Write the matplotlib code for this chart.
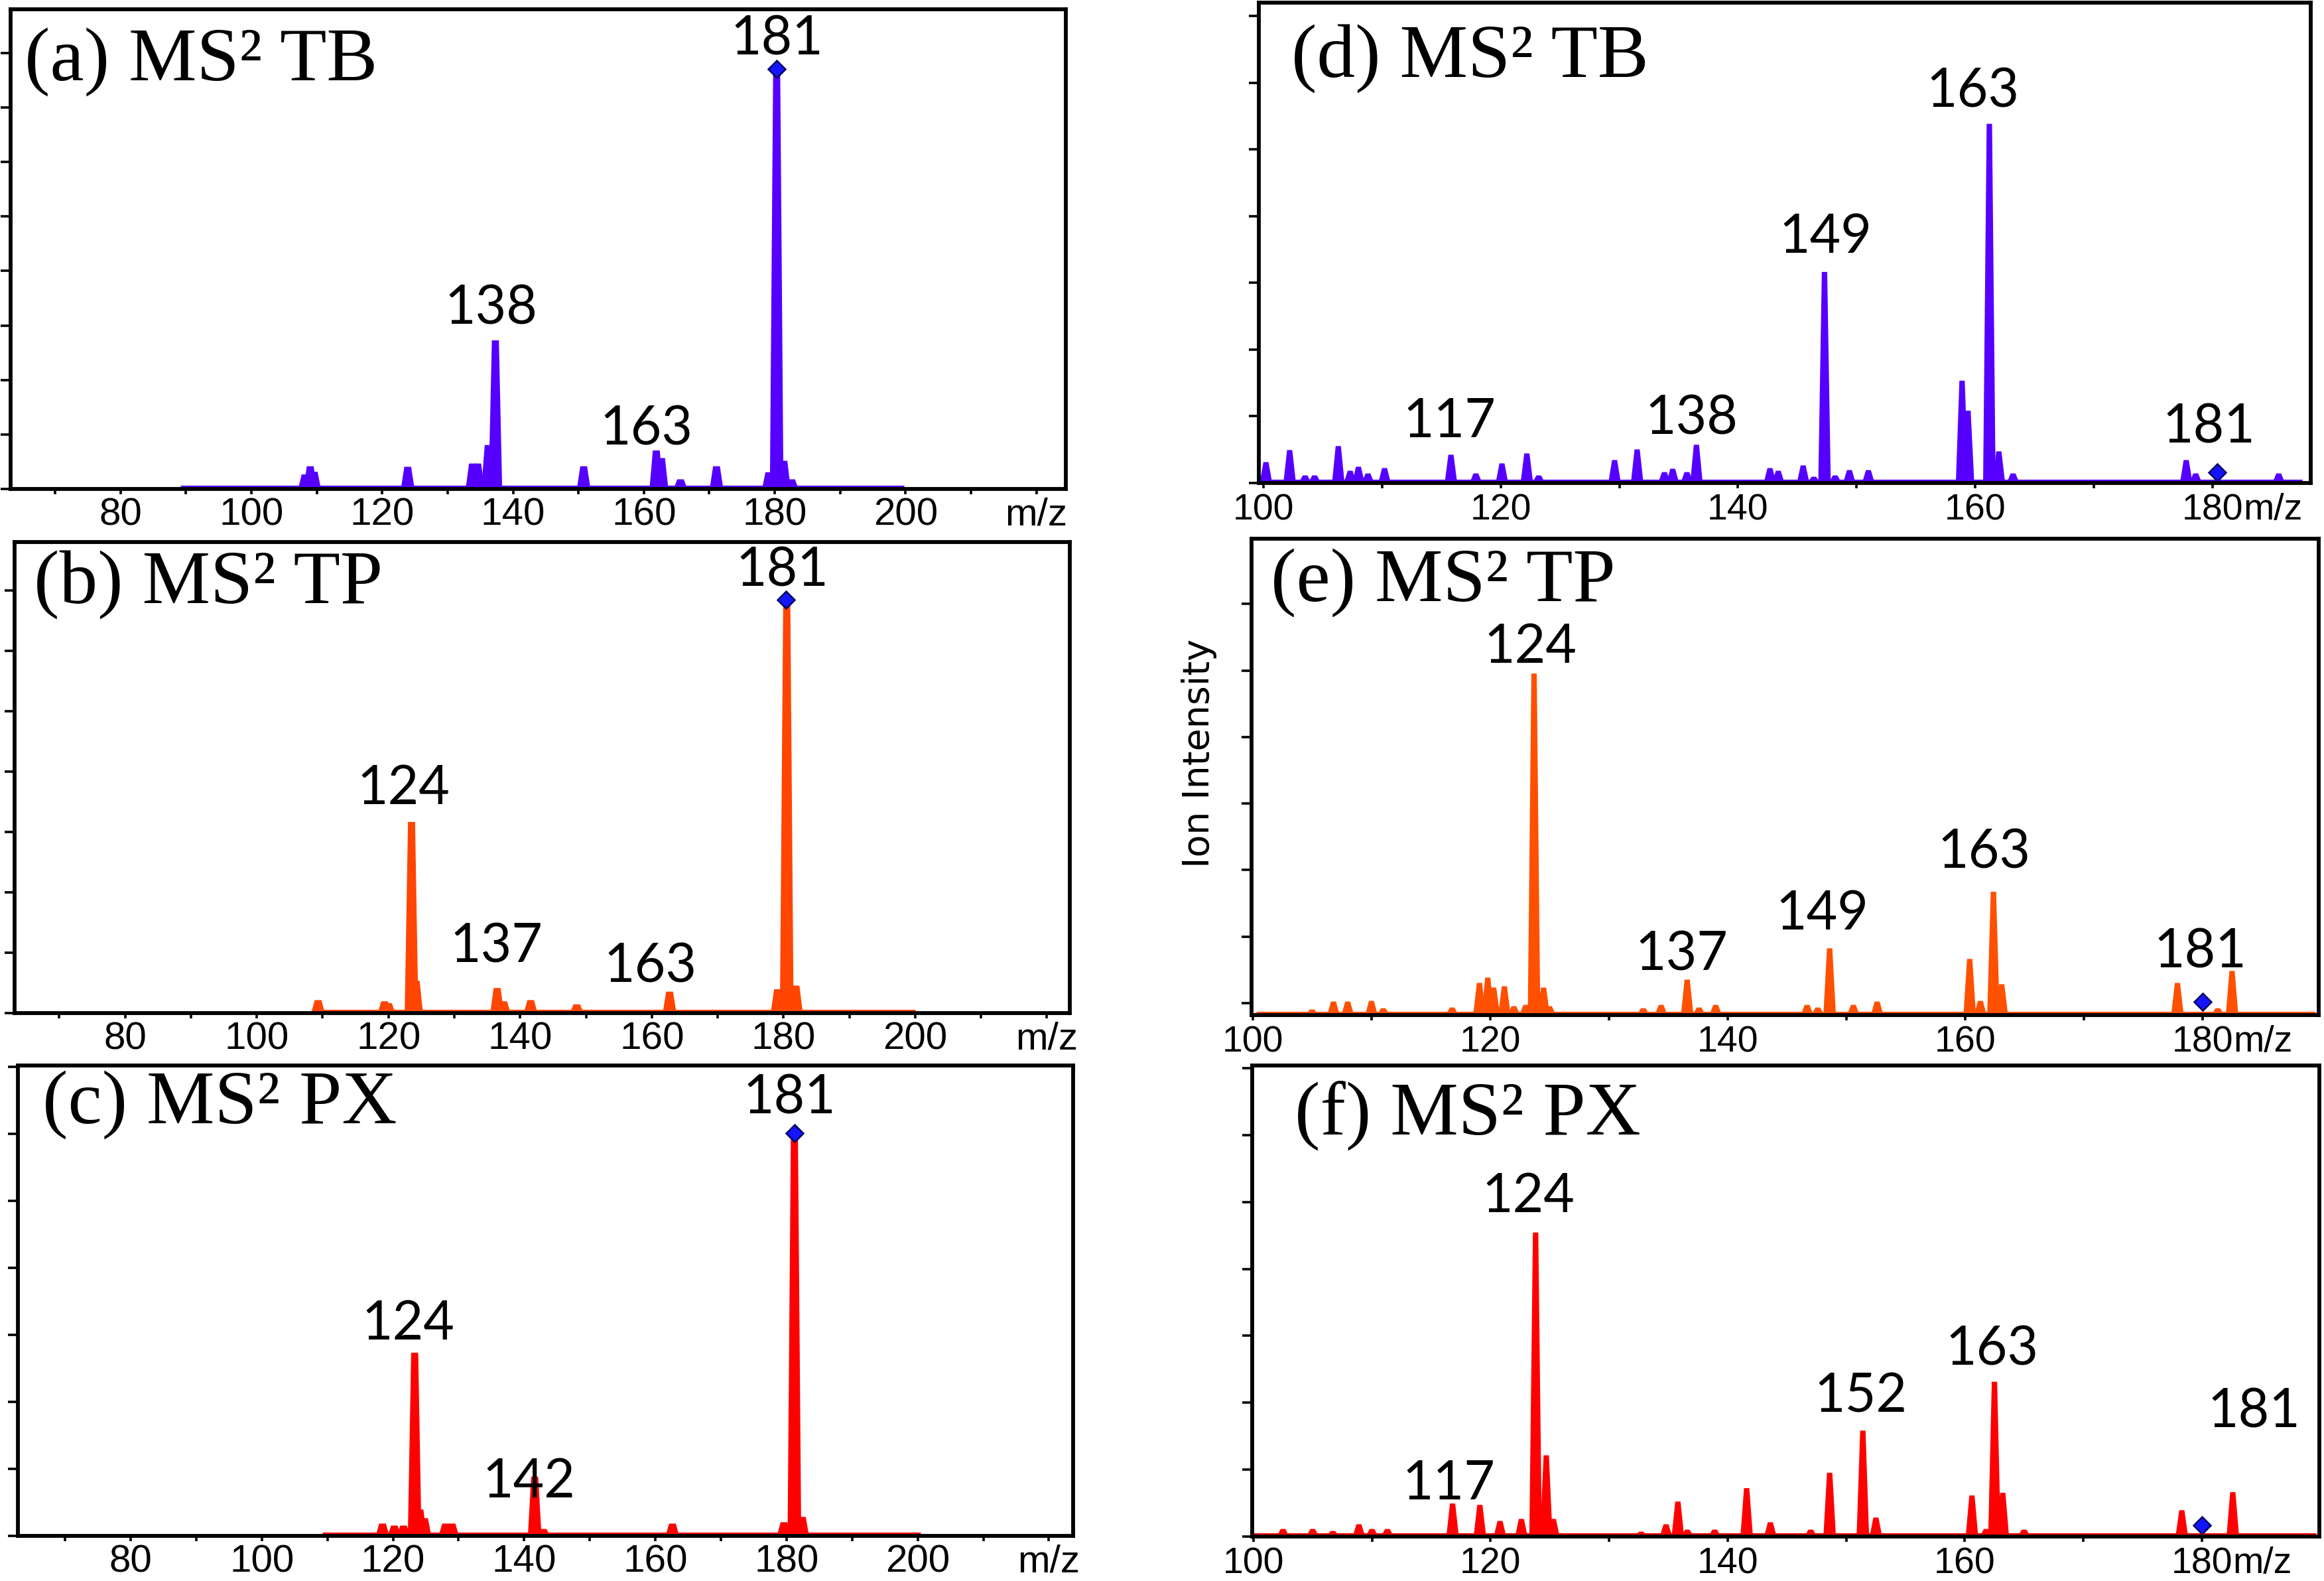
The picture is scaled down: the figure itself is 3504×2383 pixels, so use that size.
import numpy as np
import matplotlib.pyplot as plt

# ---- data (intensity in y-tick units) ----
# (a) MS2 TB, wide scan
a_range = [89.2, 199.8]
a_mz = [108.2, 109.0, 109.6, 123.9, 133.8, 134.6, 136.2, 137.3, 150.8, 161.9,
        162.7, 165.6, 171.1, 179.1, 180.3, 181.4, 182.6]
a_int = [0.25, 0.40, 0.30, 0.39, 0.45, 0.45, 0.79, 2.71, 0.40, 0.69,
         0.55, 0.16, 0.40, 0.29, 7.66, 0.50, 0.16]
a_labels = ['181', '138', '163']
a_lab_x = [180.3, 136.6, 160.4]
a_lab_y = [8.25, 3.30, 1.09]
a_prec = [180.3, 7.71]

# (b) MS2 TP, wide scan
b_range = [109.3, 200.0]
b_mz = [109.3, 119.4, 120.0, 123.5, 124.2, 136.5, 137.5, 141.6, 148.6, 162.7,
        179.1, 180.5, 181.9]
b_int = [0.20, 0.18, 0.15, 3.15, 0.52, 0.40, 0.18, 0.20, 0.13, 0.34,
         0.38, 6.82, 0.44]
b_labels = ['181', '124', '137', '163']
b_lab_x = [179.8, 122.3, 136.4, 159.8]
b_lab_y = [7.32, 3.71, 1.09, 0.76]
b_prec = [180.4, 6.84]

# (c) MS2 PX, wide scan
c_range = [109.2, 200.4]
c_mz = [118.4, 120.2, 121.6, 123.3, 124.1, 124.8, 128.0, 129.0, 141.6, 142.9,
        162.6, 179.6, 181.2, 182.4]
c_int = [0.17, 0.14, 0.14, 2.72, 0.38, 0.25, 0.17, 0.17, 0.87, 0.09,
         0.17, 0.19, 5.99, 0.27]
c_labels = ['181', '124', '142']
c_lab_x = [180.5, 122.3, 140.7]
c_lab_y = [6.53, 3.16, 0.80]
c_prec = [181.2, 6.01]

# (d) MS2 TB, zoomed
d_range = [100.0, 187.6]
d_mz = [100.2, 102.2, 103.5, 104.3, 106.3, 107.3, 108.0, 108.8, 110.2, 115.8,
        117.9, 120.1, 122.2, 123.2, 129.6, 131.5, 133.8, 134.5, 135.7, 136.5,
        142.7, 143.4, 145.5, 146.4, 147.3, 148.2, 149.4, 151.0, 158.9, 159.4,
        161.2, 162.0, 163.2, 177.8, 178.6, 185.6]
d_int = [0.30, 0.48, 0.10, 0.10, 0.54, 0.17, 0.23, 0.13, 0.21, 0.41,
         0.13, 0.28, 0.43, 0.10, 0.33, 0.49, 0.15, 0.20, 0.15, 0.56,
         0.21, 0.17, 0.25, 0.08, 3.15, 0.10, 0.18, 0.18, 1.52, 1.07,
         5.37, 0.46, 0.13, 0.33, 0.13, 0.13]
d_labels = ['117', '138', '149', '163', '181']
d_lab_x = [115.7, 136.1, 147.4, 159.8, 179.7]
d_lab_y = [0.91, 0.96, 3.68, 5.86, 0.83]
d_prec = [180.4, 0.16]

# (e) MS2 TP, zoomed
e_range = [100.3, 189.5]
e_mz = [105.0, 106.8, 108.0, 110.0, 111.0, 116.8, 119.1, 119.8, 120.3, 121.2,
        122.0, 123.0, 123.7, 124.5, 125.0, 132.9, 134.4, 136.6, 137.6, 139.0,
        146.7, 147.6, 148.6, 150.6, 152.6, 160.4, 161.3, 162.4, 163.1, 177.9,
        181.3, 182.5]
e_int = [0.07, 0.19, 0.19, 0.20, 0.09, 0.10, 0.47, 0.55, 0.40, 0.42,
         0.12, 0.14, 5.12, 0.40, 0.12, 0.09, 0.14, 0.52, 0.10, 0.14,
         0.14, 0.10, 0.99, 0.14, 0.19, 0.83, 0.20, 1.84, 0.45, 0.47,
         0.09, 0.65]
e_labels = ['124', '137', '149', '163', '181']
e_lab_x = [123.4, 136.1, 148.0, 161.6, 179.8]
e_lab_y = [5.52, 0.90, 1.52, 2.44, 0.94]
e_prec = [180.0, 0.20]

# (f) MS2 PX, zoomed
f_range = [100.0, 189.6]
f_mz = [102.5, 105.0, 106.7, 108.9, 110.0, 111.3, 116.8, 119.1, 120.8, 122.6,
        123.8, 124.7, 125.3, 132.7, 134.8, 135.8, 136.6, 138.9, 141.6, 143.6,
        147.0, 148.6, 151.4, 152.5, 160.6, 161.8, 162.5, 163.2, 165.0, 178.3,
        182.6]
f_int = [0.10, 0.10, 0.07, 0.17, 0.10, 0.10, 0.48, 0.46, 0.22, 0.25,
         4.53, 1.20, 0.25, 0.06, 0.17, 0.51, 0.09, 0.09, 0.71, 0.20,
         0.09, 0.94, 1.57, 0.27, 0.60, 0.10, 2.30, 0.64, 0.09, 0.38,
         0.65]
f_labels = ['117', '124', '152', '163', '181']
f_lab_x = [116.5, 123.2, 151.2, 162.3, 184.4]
f_lab_y = [0.78, 5.08, 2.09, 2.79, 1.86]
f_prec = [180.0, 0.17]

titles = ['(a) MS² TB', '(b) MS² TP', '(c) MS² PX',
          '(d) MS² TB', '(e) MS² TP', '(f) MS² PX']

# ---- figure ----
W, H = 3504, 2383
fig = plt.figure(figsize=(W / 100, H / 100), dpi=100)

XTICK_LEN = 6


def box(x0, y0, x1, y1):
    return [x0 / W, 1 - y1 / H, (x1 - x0) / W, (y1 - y0) / H]


def spectrum(ax, rng, mz, inten, color, hw_base, hw_top):
    ax.plot(rng, [0, 0], color=color, lw=8, solid_capstyle='butt', zorder=2)
    for m, h in zip(mz, inten):
        ax.fill([m - hw_base, m - hw_top, m + hw_top, m + hw_base], [0, h, h, 0],
                color=color, lw=2, zorder=2)


def frame(ax, xlim, ylim, yticks):
    ax.set_xlim(xlim)
    ax.set_ylim(ylim)
    ax.set_yticks(yticks)
    for s in ax.spines.values():
        s.set_linewidth(4.2)
        s.set_zorder(3)
    ax.tick_params(axis='y', direction='out', length=11, width=2.6, labelleft=False)
    ax.tick_params(axis='x', direction='out', length=XTICK_LEN, width=2.6)


def peak_labels(ax, labels, xs, ys, prec):
    for t, x, y in zip(labels, xs, ys):
        ax.text(x, y, t, ha='center', va='center', fontsize=58,
                family='Lato', zorder=4)
    ax.plot(prec[0], prec[1], 'D', ms=13, mfc='#1414ff', mec='#000060',
            mew=1.8, zorder=5)


def left_axis(ax):
    ticks = np.arange(70, 221, 10)
    labs = [str(v) if (v % 20 == 0 and 80 <= v <= 200) else '' for v in ticks]
    labs[-1] = 'm/z'
    ax.set_xticks(ticks)
    ax.set_xticklabels(labs, fontsize=42, family='Liberation Sans')
    ax.tick_params(axis='x', pad=3)


def right_axis(ax):
    pad = 5
    ticks = np.arange(100, 181, 10)
    labs = [str(v) if v % 20 == 0 else '' for v in ticks]
    ax.set_xticks(ticks)
    ax.set_xticklabels(labs, fontsize=40, family='Liberation Sans')
    ax.tick_params(axis='x', pad=pad)
    ax.annotate('m/z', xy=(182.6, 0), xycoords=('data', 'axes fraction'),
                xytext=(0, -(XTICK_LEN + pad)), textcoords='offset points',
                ha='left', va='top', fontsize=40, family='Liberation Sans')


def title(ax, text, x, y):
    ax.text(x, y, text, transform=ax.transAxes, ha='left', va='center',
            fontsize=83, family='Liberation Serif', zorder=4)


# left column
ax_a = fig.add_axes(box(16, 14, 1607, 737))
spectrum(ax_a, a_range, a_mz, a_int, '#5500ff', 0.9, 0.4)
frame(ax_a, (63.2, 224.5), (0, 8.8), np.arange(0, 9))
left_axis(ax_a)
peak_labels(ax_a, a_labels, a_lab_x, a_lab_y, a_prec)
title(ax_a, titles[0], 0.013, 0.891)

ax_b = fig.add_axes(box(22, 817, 1613, 1527))
spectrum(ax_b, b_range, b_mz, b_int, '#ff4500', 0.9, 0.4)
frame(ax_b, (63.2, 223.5), (0, 7.8), np.arange(0, 8))
left_axis(ax_b)
peak_labels(ax_b, b_labels, b_lab_x, b_lab_y, b_prec)
title(ax_b, titles[1], 0.018, 0.910)

ax_c = fig.add_axes(box(27, 1606, 1618, 2315))
spectrum(ax_c, c_range, c_mz, c_int, '#ff0000', 0.9, 0.4)
frame(ax_c, (62.8, 223.7), (0, 7.02), np.arange(0, 8))
left_axis(ax_c)
peak_labels(ax_c, c_labels, c_lab_x, c_lab_y, c_prec)
title(ax_c, titles[2], 0.023, 0.917)

# right column
ax_d = fig.add_axes(box(1898, 4, 3484, 728))
spectrum(ax_d, d_range, d_mz, d_int, '#5500ff', 0.45, 0.15)
frame(ax_d, (99.6, 188.3), (0, 7.2), np.arange(0, 8))
right_axis(ax_d)
peak_labels(ax_d, d_labels, d_lab_x, d_lab_y, d_prec)
title(ax_d, titles[3], 0.031, 0.884)

ax_e = fig.add_axes(box(1887, 812, 3496, 1530))
spectrum(ax_e, e_range, e_mz, e_int, '#ff5000', 0.45, 0.15)
frame(ax_e, (99.9, 189.8), (0, 7.16), np.arange(0, 7) + 0.18)
right_axis(ax_e)
peak_labels(ax_e, e_labels, e_lab_x, e_lab_y, e_prec)
title(ax_e, titles[4], 0.018, 0.908)

ax_f = fig.add_axes(box(1888, 1606, 3497, 2316))
spectrum(ax_f, f_range, f_mz, f_int, '#ff0000', 0.45, 0.15)
frame(ax_f, (99.9, 189.9), (0, 7.04), np.arange(0, 8))
right_axis(ax_f)
peak_labels(ax_f, f_labels, f_lab_x, f_lab_y, f_prec)
title(ax_f, titles[5], 0.040, 0.894)

fig.text(1808 / W, 1 - 1135 / H, 'Ion Intensity', rotation=90, ha='center',
         va='center', fontsize=40, family='DejaVu Sans')

fig.savefig('out.png', dpi=100)
